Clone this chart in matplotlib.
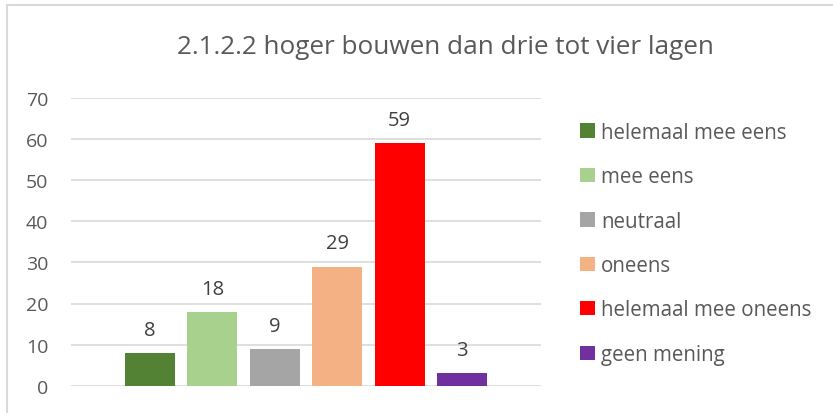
import matplotlib.pyplot as plt
from matplotlib.patches import Patch
from matplotlib.lines import Line2D

categories = ['helemaal mee eens', 'mee eens', 'neutraal', 'oneens',
              'helemaal mee oneens', 'geen mening']
values = [8, 18, 9, 29, 59, 3]
colors = ['#548235', '#A9D18E', '#A5A5A5', '#F4B183', '#FF0000', '#7030A0']
yticks = [0, 10, 20, 30, 40, 50, 60, 70]
title = '2.1.2.2 hoger bouwen dan drie tot vier lagen'

plt.rcParams['font.family'] = ['Open Sans', 'DejaVu Sans']
txt = '#595959'

fig = plt.figure(figsize=(8.33, 4.14), dpi=100)
ax = fig.add_axes([71 / 833, 1 - 386.7 / 414, 470 / 833, 287.7 / 414])

xs = list(range(len(values)))
ax.bar(xs, values, width=0.8, color=colors, zorder=3)
for x, v in zip(xs, values):
    ax.text(x, v + 3.2, str(v), ha='center', va='bottom', fontsize=14.5, color='#404040')

ax.set_xlim(-1.266, 6.266)
ax.set_ylim(0, 70)
ax.set_yticks(yticks)
ax.set_xticks([])
ax.tick_params(axis='y', length=0, labelsize=14, labelcolor=txt, pad=16.5)
ax.grid(axis='y', color='#D9D9D9', linewidth=1.2, zorder=0)
for s in ax.spines.values():
    s.set_visible(False)

fig.text(445 / 833, 1 - 48 / 414, title, ha='center', va='center', fontsize=18.8, color=txt)

handles = [Patch(facecolor=c) for c in colors]
fig.legend(handles, categories, loc='upper left', bbox_to_anchor=(572 / 833, 1 - 114.5 / 414),
           frameon=False, fontsize=14.8, labelcolor=txt, handlelength=0.7, handleheight=0.7,
           handletextpad=0.3, labelspacing=1.14, borderaxespad=0, borderpad=0.4)

# chart border (top/left visible)
fig.add_artist(Line2D([6.5 / 833, 1.01], [1 - 5.5 / 414] * 2, color='#D9D9D9', lw=1.5, transform=fig.transFigure))
fig.add_artist(Line2D([6.5 / 833] * 2, [-0.01, 1 - 5.5 / 414], color='#D9D9D9', lw=1.5, transform=fig.transFigure))

fig.savefig('out.png', dpi=100)
